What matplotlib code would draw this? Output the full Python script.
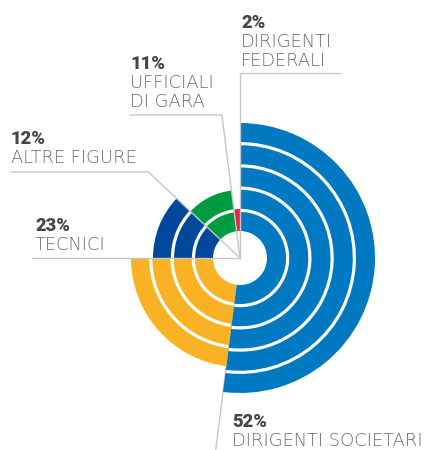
import numpy as np
import matplotlib
matplotlib.use("Agg")
import matplotlib.pyplot as plt
from matplotlib.patches import Wedge

# data (clockwise from 12 o'clock)
categories = ["DIRIGENTI SOCIETARI", "TECNICI", "ALTRE FIGURE",
              "UFFICIALI\nDI GARA", "DIRIGENTI\nFEDERALI"]
shares = [52, 23, 12, 11, 2]
rings = [5, 4, 3, 2, 1]

# styling / layout
colors = ["#0079c2", "#fab124", "#00489b", "#009a40", "#e5264c"]
outer_r = [135, 109, 87, 68, 49]
inner_r = 27
gap = 3.2
W, H = 433, 450
cx, cy = 240, H - 258
line_col = "#c6c6c6"
pct_col = "#454545"
lab_col = "#6a6a6a"

# label layout: (text x, pct baseline y, leader elbow y, leader far x) in image px
label_pos = {
    "DIRIGENTI SOCIETARI": (232, 427, None, None),
    "TECNICI": (35, 231, 258, 32),
    "ALTRE FIGURE": (11, 144, 172, 11),
    "UFFICIALI\nDI GARA": (130, 69, 115, 130),
    "DIRIGENTI\nFEDERALI": (241, 28, 73, 340),
}

plt.rcParams['font.family'] = ['DejaVu Sans']

fig = plt.figure(figsize=(W / 100, H / 100), dpi=100)
ax = fig.add_axes([0, 0, 1, 1])
ax.set_xlim(0, W)
ax.set_ylim(0, H)
ax.set_aspect('equal')
ax.axis('off')

total = sum(shares)
start = 90.0
for cat, val, n, col, r_out in zip(categories, shares, rings, colors, outer_r):
    end = start - 360.0 * val / total
    pitch = (r_out - inner_r + gap) / n
    for j in range(n):
        r0 = inner_r + j * pitch
        r1 = r0 + pitch - gap
        ax.add_patch(Wedge((cx, cy), r1, end, start, width=r1 - r0,
                           facecolor=col, edgecolor='none', zorder=2))

    tx, py, ey, fx = label_pos[cat]
    theta = np.deg2rad(end)
    if ey is None:
        # leader runs from the ring edge straight out to the bottom
        t = (cy - 0) / -np.sin(theta)
        ax.plot([cx + inner_r * np.cos(theta), cx + t * np.cos(theta)],
                [cy + inner_r * np.sin(theta), 0],
                color=line_col, lw=1, zorder=1, solid_capstyle='butt')
    else:
        ey_d = H - ey
        if abs(np.cos(theta)) < 1e-6:
            ex = cx
        else:
            ex = cx + (ey_d - cy) / np.tan(theta)
        ax.plot([fx, ex, cx], [ey_d, ey_d, cy], color=line_col, lw=1,
                zorder=3, solid_joinstyle='miter')

    ax.text(tx, H - py, f"{val}%", color=pct_col, fontsize=13.2,
            fontweight='heavy', va='baseline', ha='left',
            family=['Roboto', 'DejaVu Sans'])
    for k, line in enumerate(cat.split("\n")):
        ax.text(tx, H - py - 19 * (k + 1), line, color=lab_col, fontsize=12.9,
                fontweight='light', va='baseline', ha='left')
    start = end

fig.savefig("out.png", dpi=100)
